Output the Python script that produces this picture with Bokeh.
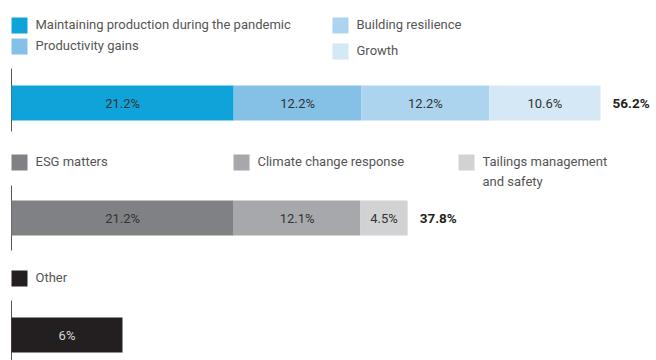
from bokeh.plotting import figure
from bokeh.models import Range1d, ColumnDataSource
from bokeh.core.properties import value
from bokeh.embed import file_html
from bokeh.resources import INLINE

# ---- data ----
group1_names = ["Maintaining production during the pandemic", "Productivity gains",
                "Building resilience", "Growth"]
group1_values = [21.2, 12.2, 12.2, 10.6]
group1_colors = ["#0fa3d9", "#85c1e6", "#acd4ef", "#d4e8f6"]

group2_names = ["ESG matters", "Climate change response", "Tailings management\nand safety"]
group2_values = [21.2, 12.1, 4.5]
group2_colors = ["#808185", "#a7a8ab", "#d1d2d4"]

group3_names = ["Other"]
group3_values = [6]
group3_colors = ["#231f20"]

# ---- layout ----
W, H = 656, 360
ORIGIN_PX = 11
PX_PER_PCT = 10.48
PX_PER_PCT_OTHER = 18.5   # the reference draws the single "Other" bar on its own scale
FONT = "Roboto"

p = figure(width=W, height=H, output_backend="svg", toolbar_location=None,
           x_range=Range1d(0, W), y_range=Range1d(H, 0),
           min_border=0, min_border_left=0, min_border_right=0,
           min_border_top=0, min_border_bottom=0)
p.extra_x_ranges = {
    "pct": Range1d(-ORIGIN_PX / PX_PER_PCT, (W - ORIGIN_PX) / PX_PER_PCT),
    "pct3": Range1d(-ORIGIN_PX / PX_PER_PCT_OTHER, (W - ORIGIN_PX) / PX_PER_PCT_OTHER),
}
p.xaxis.visible = False
p.yaxis.visible = False
p.xgrid.visible = False
p.ygrid.visible = False
p.outline_line_color = None
p.background_fill_color = "white"
p.border_fill_color = "white"


def fmt(v):
    return f"{v:g}%"


def draw_group(values, colors, yc, axis_top, axis_bottom, label_colors, rng="pct"):
    lefts, rights = [], []
    acc = 0.0
    for v in values:
        lefts.append(acc)
        acc += v
        rights.append(acc)
    src = ColumnDataSource(dict(left=lefts, right=rights, y=[yc] * len(values),
                                color=colors,
                                mid=[(l + r) / 2 for l, r in zip(lefts, rights)],
                                lab=[fmt(v) for v in values],
                                lc=label_colors))
    p.segment(x0=[0], x1=[0], y0=[axis_top], y1=[axis_bottom], x_range_name=rng,
              line_color="#555555", line_width=1)
    p.hbar(left="left", right="right", y="y", height=35, color="color", line_color=None,
           source=src, x_range_name=rng)
    p.text(x="mid", y="y", text="lab", text_color="lc", text_align="center",
           text_baseline="middle", text_font=value(FONT), text_font_size="13px",
           source=src, x_range_name=rng)
    total = round(sum(values), 1)
    if len(values) > 1:
        p.text(x=[acc], y=[yc], text=[fmt(total)], x_offset=12, text_align="left",
               text_baseline="middle", text_font=value(FONT), text_font_size="13.5px",
               text_font_style="bold", text_color="#231f20", x_range_name=rng)


def legend_item(px, py, color, label):
    p.rect(x=[px + 8], y=[py], width=16, height=16, width_units="screen",
           height_units="screen", fill_color=color, line_color=None)
    lines = label.split("\n")
    for i, ln in enumerate(lines):
        p.text(x=[px + 24], y=[py - 1 + i * 20], text=[ln], text_align="left",
               text_baseline="middle", text_font=value(FONT), text_font_size="13px",
               text_color="#555555")


# group 1
legend_item(11, 25, group1_colors[0], group1_names[0])
legend_item(11, 46, group1_colors[1], group1_names[1])
legend_item(332, 25, group1_colors[2], group1_names[2])
legend_item(332, 51, group1_colors[3], group1_names[3])
draw_group(group1_values, group1_colors, 102.5, 68, 131, ["#333333"] * 4)

# group 2
legend_item(11, 162, group2_colors[0], group2_names[0])
legend_item(233, 162, group2_colors[1], group2_names[1])
legend_item(458, 162, group2_colors[2], group2_names[2])
draw_group(group2_values, group2_colors, 217.5, 185, 250, ["#333333"] * 3)

# group 3
legend_item(11, 278, group3_colors[0], group3_names[0])
draw_group(group3_values, group3_colors, 334.5, 300, 360, ["#d8d8d8"], rng="pct3")

open("out.html", "w").write(file_html(p, INLINE))
